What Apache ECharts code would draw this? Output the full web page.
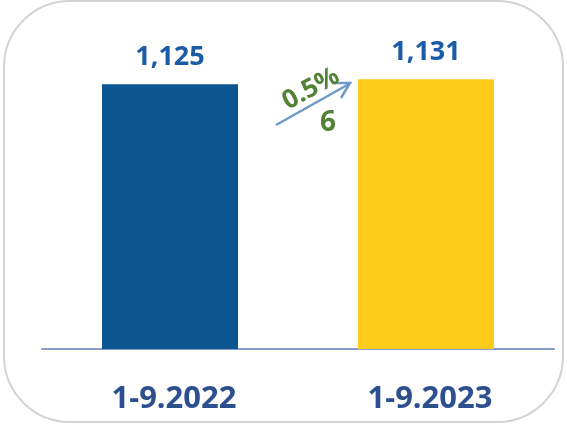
<!DOCTYPE html>
<html>
<head>
<meta charset="UTF-8">
<title></title>
<style>
html,body{margin:0;padding:0;background:#fff;}
#box{width:567px;height:424px;}
</style>
</head>
<body>
<div id="box"></div>
<script type="text/javascript" src="https://cdn.jsdelivr.net/npm/echarts@6/dist/echarts.min.js"></script>
<script type="text/javascript">
var categories = ['1-9.2022', '1-9.2023'];
var values = [1125, 1131];
var barColors = ['#0b5690', '#ffcb1a'];
var changePct = '0.5%';
var changeAbs = '6';

var myechart = echarts.init(document.getElementById('box'));

var option = {
	animation: false,
	grid: { left: 42, right: 13, top: 23, bottom: 75 },
	xAxis: {
		type: 'category',
		data: categories,
		axisLine: { lineStyle: { color: '#8a9cc8', width: 2 } },
		axisTick: { show: false },
		axisLabel: {
			margin: 35,
			color: '#2e4f8f',
			fontSize: 31,
			fontWeight: 'bold',
			fontFamily: 'Noto Sans',
			padding: [0, 0, 0, 8]
		}
	},
	yAxis: {
		type: 'value',
		min: 800,
		max: 1200,
		show: false,
		splitLine: { show: false }
	},
	series: [{
		type: 'bar',
		barWidth: 136,
		data: values.map(function (v, i) {
			return { value: v, itemStyle: { color: barColors[i] } };
		}),
		label: {
			show: true,
			position: 'top',
			distance: 13,
			color: '#1a5ca8',
			fontSize: 27,
			fontWeight: 'bold',
			fontFamily: 'Noto Sans',
			formatter: function (p) {
				return p.value.toLocaleString('en-US');
			}
		}
	}],
	graphic: [
		{
			type: 'rect',
			shape: { x: 4, y: 1, width: 559, height: 421, r: 66 },
			style: { fill: 'none', stroke: '#d3d3d3', lineWidth: 2 },
			z: -1
		},
		{
			type: 'line',
			shape: { x1: 276, y1: 125, x2: 349, y2: 84 },
			style: { stroke: '#6f9ac8', lineWidth: 2.5 }
		},
		{
			type: 'polyline',
			shape: { points: [[332, 83], [350, 83], [341, 98]] },
			style: { stroke: '#6f9ac8', lineWidth: 2.5, fill: 'none' }
		},
		{
			type: 'text',
			x: 311, y: 89,
			rotation: 0.5,
			style: {
				text: changePct,
				fill: '#538135',
				font: 'bold 26px "Noto Sans"',
				align: 'center',
				verticalAlign: 'middle'
			}
		},
		{
			type: 'text',
			x: 328, y: 123,
			style: {
				text: changeAbs,
				fill: '#538135',
				font: 'bold 28px "Noto Sans"',
				align: 'center',
				verticalAlign: 'middle'
			}
		}
	]
};

myechart.setOption(option);
</script>
</body>
</html>
